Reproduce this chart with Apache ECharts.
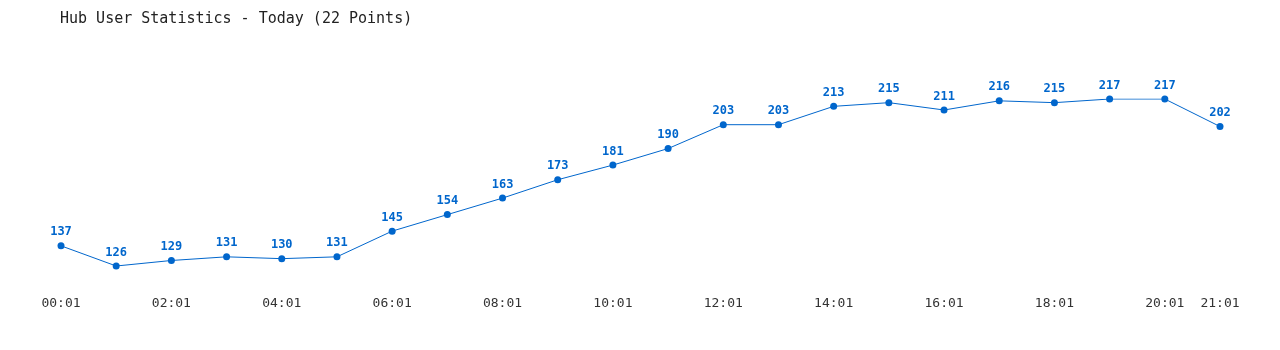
<!DOCTYPE html>
<html><head><meta charset="utf-8">
<script src="https://cdn.jsdelivr.net/npm/echarts@6/dist/echarts.min.js"></script>
<style>html,body{margin:0;padding:0;background:#fff}#c{width:1280px;height:350px}</style>
</head><body><div id="c"></div>
<script>
const titleText = 'Hub User Statistics - Today (22 Points)';
const categories = ['00:01','01:01','02:01','03:01','04:01','05:01','06:01','07:01','08:01','09:01','10:01','11:01','12:01','13:01','14:01','15:01','16:01','17:01','18:01','19:01','20:01','21:01'];
const users = [137,126,129,131,130,131,145,154,163,173,181,190,203,203,213,215,211,216,215,217,217,202];

const chart = echarts.init(document.getElementById('c'));
const mono = 'DejaVu Sans Mono';
chart.setOption({
  animation: false,
  title: { text: titleText, left: 55, top: 7, textStyle: { fontFamily: mono, fontSize: 15, fontWeight: 'normal', color: '#222' } },
  grid: { left: 61, right: 60, top: 99, bottom: 84 },
  xAxis: {
    type: 'category', data: categories, boundaryGap: false,
    axisLine: { show: false }, axisTick: { show: false }, splitLine: { show: false },
    axisLabel: {
      margin: 31, fontFamily: mono, fontSize: 13, color: '#333',
      interval: function (i) { return i % 2 === 0 || i === categories.length - 1; }
    }
  },
  yAxis: { type: 'value', min: 126, max: 217, show: false, splitLine: { show: false } },
  series: [{
    type: 'line', data: users, symbol: 'circle', symbolSize: 7,
    lineStyle: { color: '#0066cc', width: 1 }, itemStyle: { color: '#0066cc' },
    label: { show: true, position: 'top', distance: 4, fontFamily: mono, fontSize: 12, fontWeight: 'bold', color: '#0066cc' }
  }]
});
</script></body></html>
